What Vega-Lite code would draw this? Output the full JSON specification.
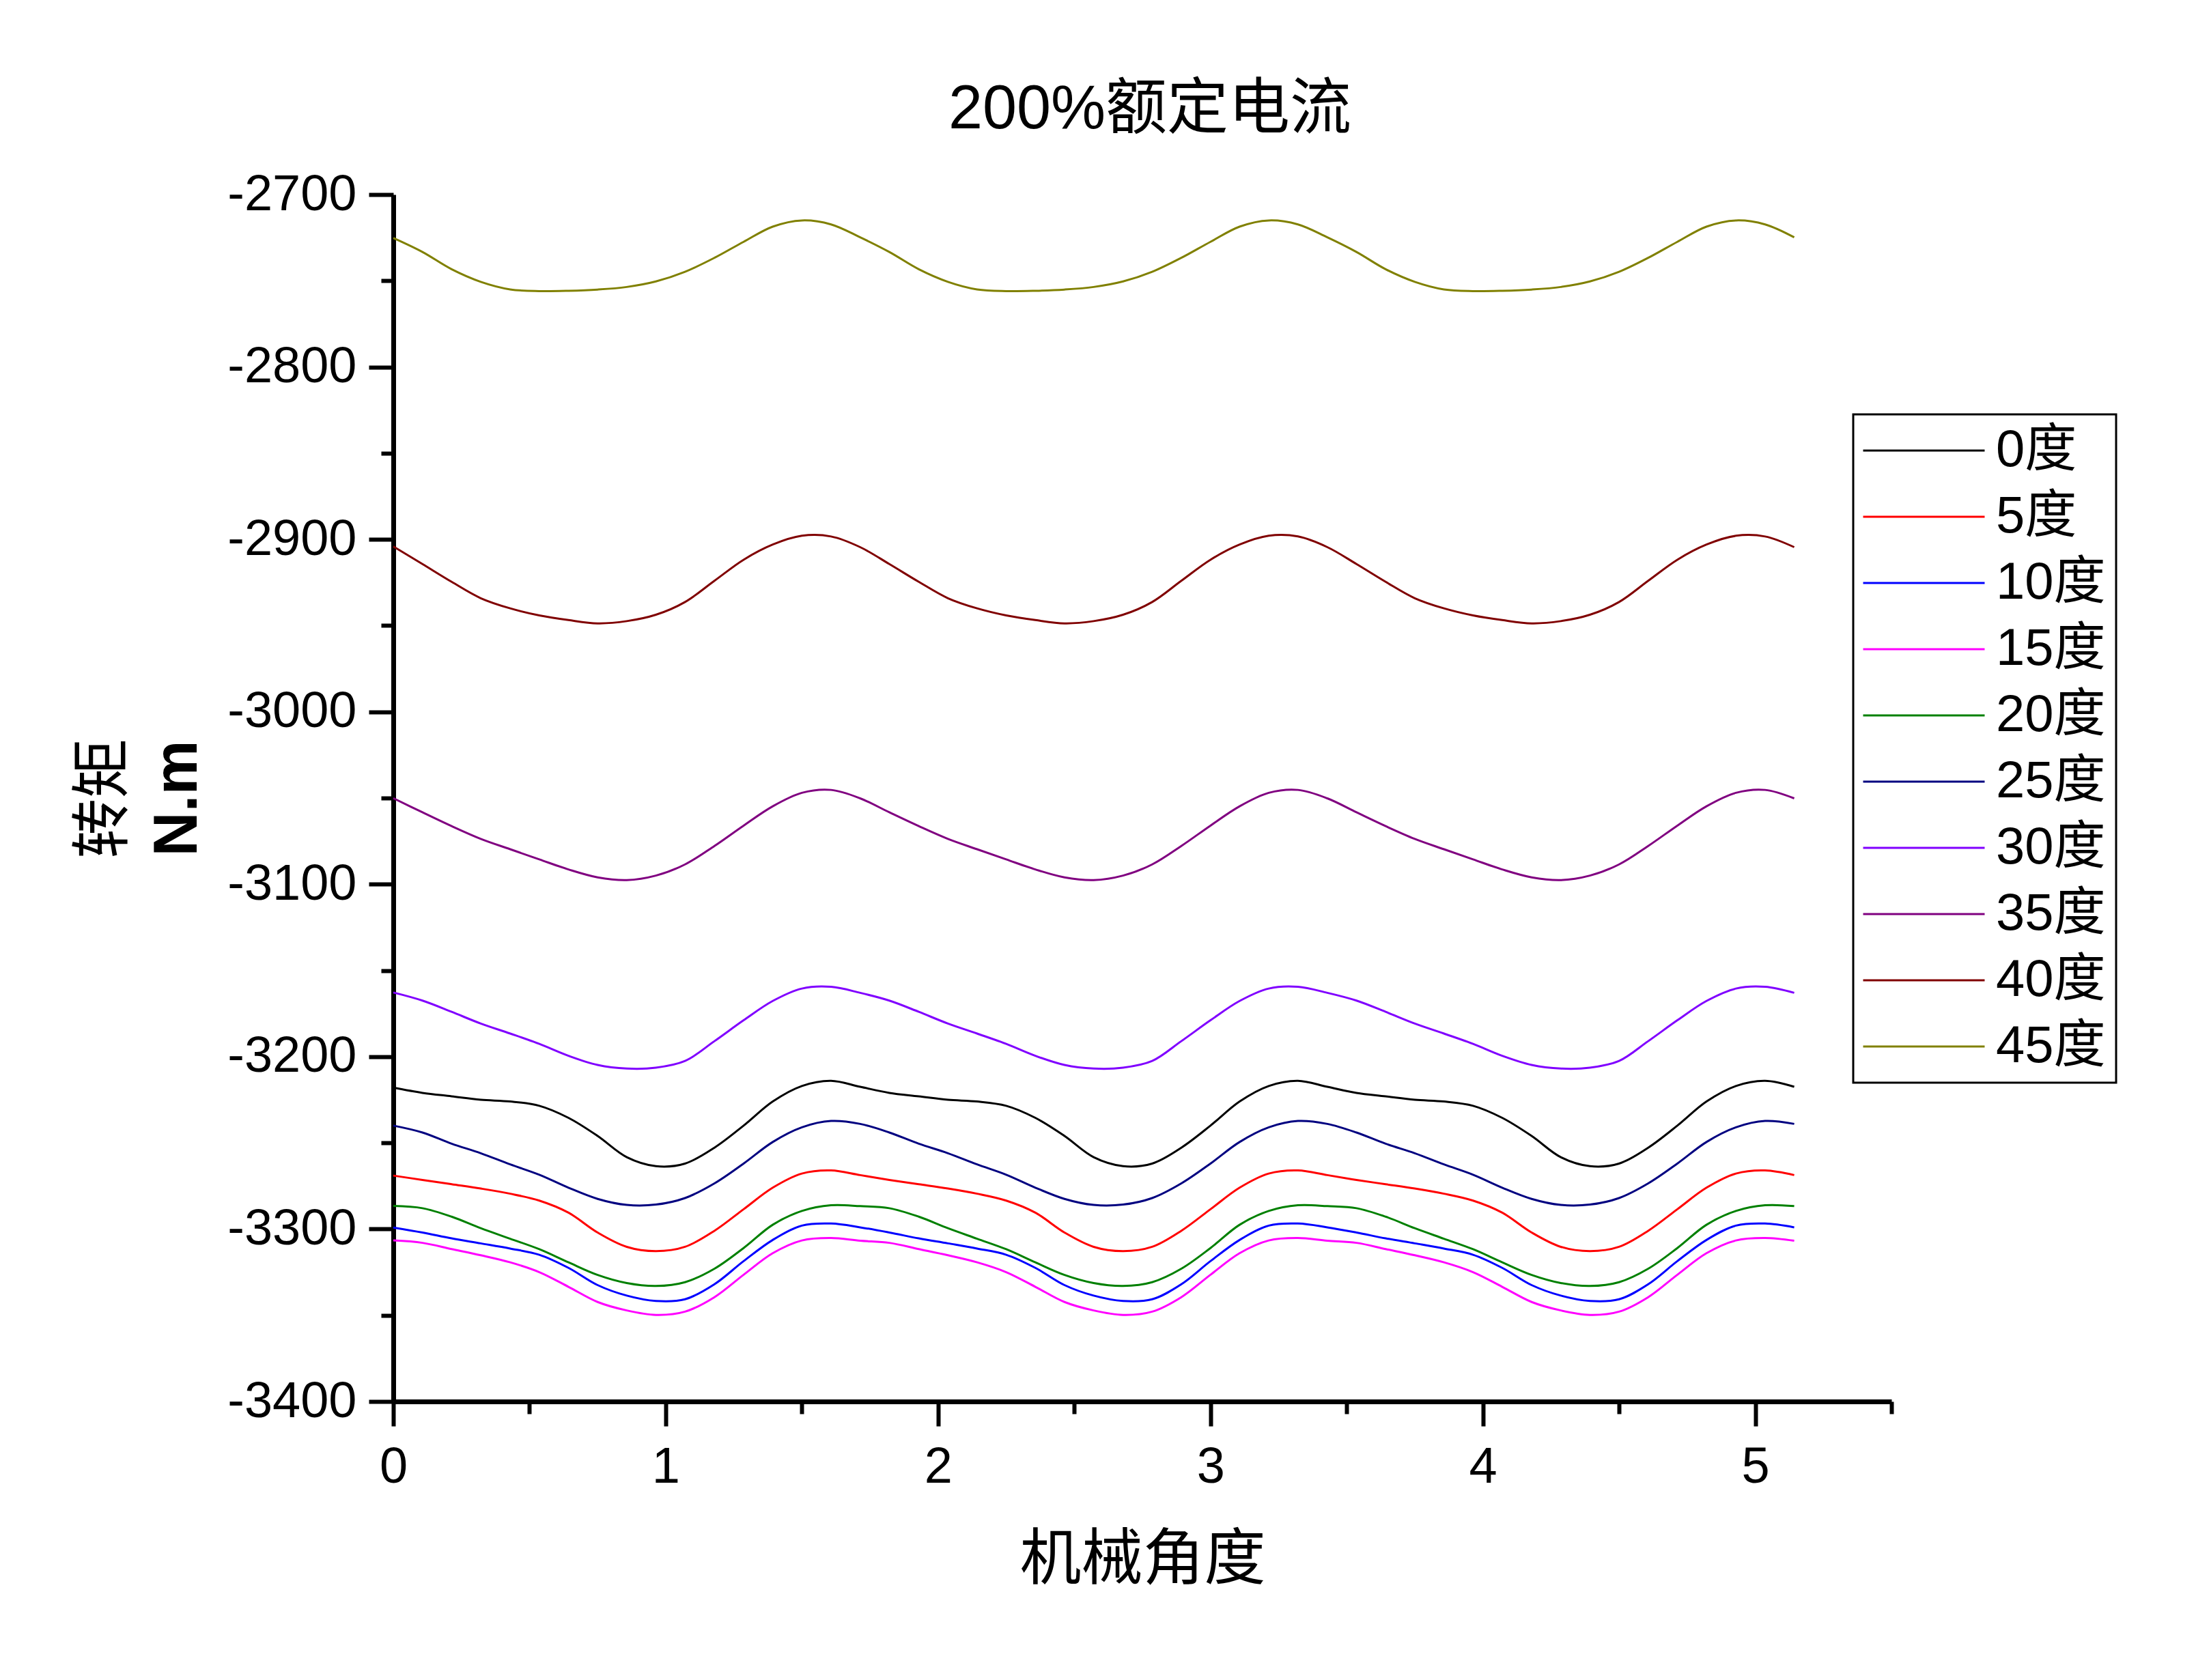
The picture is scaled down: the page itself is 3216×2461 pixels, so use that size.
{
  "$schema": "https://vega.github.io/schema/vega-lite/v6.json",
  "width": 2194,
  "height": 1768,
  "autosize": {"type": "none"},
  "padding": {"left": 576, "top": 285, "right": 446, "bottom": 408},
  "background": "white",
  "title": {
    "text": "200%额定电流",
    "anchor": "middle",
    "frame": "group",
    "offset": -30,
    "baseline": "alphabetic",
    "dx": 11,
    "font": "Liberation Sans, Noto Sans CJK SC",
    "fontSize": 90,
    "fontWeight": "normal",
    "color": "black"
  },
  "config": {
    "view": {"stroke": null},
    "axis": {"grid": false},
    "legend": {"strokeWidth": 3}
  },
  "data": {
    "values": [
      {"s":"0度","x":0,"y":-3218},{"s":"0度","x":0.107,"y":-3221},{"s":"0度","x":0.214,"y":-3223},{"s":"0度","x":0.321,"y":-3225},{"s":"0度","x":0.429,"y":-3226},{"s":"0度","x":0.536,"y":-3228.5},{"s":"0度","x":0.643,"y":-3235.5},{"s":"0度","x":0.75,"y":-3246},{"s":"0度","x":0.857,"y":-3258.3},{"s":"0度","x":0.964,"y":-3263.5},{"s":"0度","x":1.071,"y":-3262},{"s":"0度","x":1.179,"y":-3252.8},{"s":"0度","x":1.286,"y":-3240},{"s":"0度","x":1.393,"y":-3226},{"s":"0度","x":1.5,"y":-3217},{"s":"0度","x":1.607,"y":-3214},{"s":"0度","x":1.714,"y":-3217.5},
      {"s":"0度","x":1.821,"y":-3221},{"s":"0度","x":1.929,"y":-3223},{"s":"0度","x":2.036,"y":-3225},{"s":"0度","x":2.143,"y":-3226},{"s":"0度","x":2.25,"y":-3228.5},{"s":"0度","x":2.357,"y":-3235.5},{"s":"0度","x":2.464,"y":-3246},{"s":"0度","x":2.571,"y":-3258.3},{"s":"0度","x":2.679,"y":-3263.5},{"s":"0度","x":2.786,"y":-3262},{"s":"0度","x":2.893,"y":-3252.8},{"s":"0度","x":3,"y":-3240},{"s":"0度","x":3.107,"y":-3226},{"s":"0度","x":3.214,"y":-3217},{"s":"0度","x":3.321,"y":-3214},{"s":"0度","x":3.429,"y":-3217.5},
      {"s":"0度","x":3.536,"y":-3221},{"s":"0度","x":3.643,"y":-3223},{"s":"0度","x":3.75,"y":-3225},{"s":"0度","x":3.857,"y":-3226},{"s":"0度","x":3.964,"y":-3228.5},{"s":"0度","x":4.071,"y":-3235.5},{"s":"0度","x":4.179,"y":-3246},{"s":"0度","x":4.286,"y":-3258.3},{"s":"0度","x":4.393,"y":-3263.5},{"s":"0度","x":4.5,"y":-3262},{"s":"0度","x":4.607,"y":-3252.8},{"s":"0度","x":4.714,"y":-3240},{"s":"0度","x":4.821,"y":-3226},{"s":"0度","x":4.929,"y":-3217},{"s":"0度","x":5.036,"y":-3214},{"s":"0度","x":5.143,"y":-3217.5},

      {"s":"5度","x":0,"y":-3269},{"s":"5度","x":0.107,"y":-3271.5},{"s":"5度","x":0.214,"y":-3274},{"s":"5度","x":0.321,"y":-3276.5},{"s":"5度","x":0.429,"y":-3279.5},{"s":"5度","x":0.536,"y":-3283.5},{"s":"5度","x":0.643,"y":-3290.5},{"s":"5度","x":0.75,"y":-3302},{"s":"5度","x":0.857,"y":-3310.3},{"s":"5度","x":0.964,"y":-3312.8},{"s":"5度","x":1.071,"y":-3310.3},{"s":"5度","x":1.179,"y":-3301},{"s":"5度","x":1.286,"y":-3288.5},{"s":"5度","x":1.393,"y":-3276},{"s":"5度","x":1.5,"y":-3267.8},{"s":"5度","x":1.607,"y":-3266},{"s":"5度","x":1.714,"y":-3268.7},
      {"s":"5度","x":1.821,"y":-3271.5},{"s":"5度","x":1.929,"y":-3274},{"s":"5度","x":2.036,"y":-3276.5},{"s":"5度","x":2.143,"y":-3279.5},{"s":"5度","x":2.25,"y":-3283.5},{"s":"5度","x":2.357,"y":-3290.5},{"s":"5度","x":2.464,"y":-3302},{"s":"5度","x":2.571,"y":-3310.3},{"s":"5度","x":2.679,"y":-3312.8},{"s":"5度","x":2.786,"y":-3310.3},{"s":"5度","x":2.893,"y":-3301},{"s":"5度","x":3,"y":-3288.5},{"s":"5度","x":3.107,"y":-3276},{"s":"5度","x":3.214,"y":-3267.8},{"s":"5度","x":3.321,"y":-3266},{"s":"5度","x":3.429,"y":-3268.7},
      {"s":"5度","x":3.536,"y":-3271.5},{"s":"5度","x":3.643,"y":-3274},{"s":"5度","x":3.75,"y":-3276.5},{"s":"5度","x":3.857,"y":-3279.5},{"s":"5度","x":3.964,"y":-3283.5},{"s":"5度","x":4.071,"y":-3290.5},{"s":"5度","x":4.179,"y":-3302},{"s":"5度","x":4.286,"y":-3310.3},{"s":"5度","x":4.393,"y":-3312.8},{"s":"5度","x":4.5,"y":-3310.3},{"s":"5度","x":4.607,"y":-3301},{"s":"5度","x":4.714,"y":-3288.5},{"s":"5度","x":4.821,"y":-3276},{"s":"5度","x":4.929,"y":-3267.8},{"s":"5度","x":5.036,"y":-3266},{"s":"5度","x":5.143,"y":-3268.7},

      {"s":"10度","x":0,"y":-3299.1},{"s":"10度","x":0.107,"y":-3302},{"s":"10度","x":0.214,"y":-3305.4},{"s":"10度","x":0.321,"y":-3308.3},{"s":"10度","x":0.429,"y":-3311.3},{"s":"10度","x":0.536,"y":-3314.9},{"s":"10度","x":0.643,"y":-3322.5},{"s":"10度","x":0.75,"y":-3332.5},{"s":"10度","x":0.857,"y":-3338.6},{"s":"10度","x":0.964,"y":-3341.7},{"s":"10度","x":1.071,"y":-3340.7},{"s":"10度","x":1.179,"y":-3332},{"s":"10度","x":1.286,"y":-3318.6},{"s":"10度","x":1.393,"y":-3306.3},{"s":"10度","x":1.5,"y":-3298},{"s":"10度","x":1.607,"y":-3296.8},{"s":"10度","x":1.714,"y":-3299},
      {"s":"10度","x":1.821,"y":-3302},{"s":"10度","x":1.929,"y":-3305.4},{"s":"10度","x":2.036,"y":-3308.3},{"s":"10度","x":2.143,"y":-3311.3},{"s":"10度","x":2.25,"y":-3314.9},{"s":"10度","x":2.357,"y":-3322.5},{"s":"10度","x":2.464,"y":-3332.5},{"s":"10度","x":2.571,"y":-3338.6},{"s":"10度","x":2.679,"y":-3341.7},{"s":"10度","x":2.786,"y":-3340.7},{"s":"10度","x":2.893,"y":-3332},{"s":"10度","x":3,"y":-3318.6},{"s":"10度","x":3.107,"y":-3306.3},{"s":"10度","x":3.214,"y":-3298},{"s":"10度","x":3.321,"y":-3296.8},{"s":"10度","x":3.429,"y":-3299},
      {"s":"10度","x":3.536,"y":-3302},{"s":"10度","x":3.643,"y":-3305.4},{"s":"10度","x":3.75,"y":-3308.3},{"s":"10度","x":3.857,"y":-3311.3},{"s":"10度","x":3.964,"y":-3314.9},{"s":"10度","x":4.071,"y":-3322.5},{"s":"10度","x":4.179,"y":-3332.5},{"s":"10度","x":4.286,"y":-3338.6},{"s":"10度","x":4.393,"y":-3341.7},{"s":"10度","x":4.5,"y":-3340.7},{"s":"10度","x":4.607,"y":-3332},{"s":"10度","x":4.714,"y":-3318.6},{"s":"10度","x":4.821,"y":-3306.3},{"s":"10度","x":4.929,"y":-3298},{"s":"10度","x":5.036,"y":-3296.8},{"s":"10度","x":5.143,"y":-3299},

      {"s":"15度","x":0,"y":-3306.6},{"s":"15度","x":0.107,"y":-3308},{"s":"15度","x":0.214,"y":-3311.6},{"s":"15度","x":0.321,"y":-3315.2},{"s":"15度","x":0.429,"y":-3319.3},{"s":"15度","x":0.536,"y":-3325},{"s":"15度","x":0.643,"y":-3333.5},{"s":"15度","x":0.75,"y":-3342.3},{"s":"15度","x":0.857,"y":-3347.2},{"s":"15度","x":0.964,"y":-3349.8},{"s":"15度","x":1.071,"y":-3347.9},{"s":"15度","x":1.179,"y":-3339.5},{"s":"15度","x":1.286,"y":-3326.5},{"s":"15度","x":1.393,"y":-3314},{"s":"15度","x":1.5,"y":-3306.6},{"s":"15度","x":1.607,"y":-3305.2},{"s":"15度","x":1.714,"y":-3306.8},
      {"s":"15度","x":1.821,"y":-3308},{"s":"15度","x":1.929,"y":-3311.6},{"s":"15度","x":2.036,"y":-3315.2},{"s":"15度","x":2.143,"y":-3319.3},{"s":"15度","x":2.25,"y":-3325},{"s":"15度","x":2.357,"y":-3333.5},{"s":"15度","x":2.464,"y":-3342.3},{"s":"15度","x":2.571,"y":-3347.2},{"s":"15度","x":2.679,"y":-3349.8},{"s":"15度","x":2.786,"y":-3347.9},{"s":"15度","x":2.893,"y":-3339.5},{"s":"15度","x":3,"y":-3326.5},{"s":"15度","x":3.107,"y":-3314},{"s":"15度","x":3.214,"y":-3306.6},{"s":"15度","x":3.321,"y":-3305.2},{"s":"15度","x":3.429,"y":-3306.8},
      {"s":"15度","x":3.536,"y":-3308},{"s":"15度","x":3.643,"y":-3311.6},{"s":"15度","x":3.75,"y":-3315.2},{"s":"15度","x":3.857,"y":-3319.3},{"s":"15度","x":3.964,"y":-3325},{"s":"15度","x":4.071,"y":-3333.5},{"s":"15度","x":4.179,"y":-3342.3},{"s":"15度","x":4.286,"y":-3347.2},{"s":"15度","x":4.393,"y":-3349.8},{"s":"15度","x":4.5,"y":-3347.9},{"s":"15度","x":4.607,"y":-3339.5},{"s":"15度","x":4.714,"y":-3326.5},{"s":"15度","x":4.821,"y":-3314},{"s":"15度","x":4.929,"y":-3306.6},{"s":"15度","x":5.036,"y":-3305.2},{"s":"15度","x":5.143,"y":-3306.8},

      {"s":"20度","x":0,"y":-3286.6},{"s":"20度","x":0.107,"y":-3287.9},{"s":"20度","x":0.214,"y":-3292.8},{"s":"20度","x":0.321,"y":-3299.5},{"s":"20度","x":0.429,"y":-3305.6},{"s":"20度","x":0.536,"y":-3311.7},{"s":"20度","x":0.643,"y":-3319.3},{"s":"20度","x":0.75,"y":-3326.6},{"s":"20度","x":0.857,"y":-3331.3},{"s":"20度","x":0.964,"y":-3333},{"s":"20度","x":1.071,"y":-3330.8},{"s":"20度","x":1.179,"y":-3323},{"s":"20度","x":1.286,"y":-3311},{"s":"20度","x":1.393,"y":-3297.5},{"s":"20度","x":1.5,"y":-3289.5},{"s":"20度","x":1.607,"y":-3286.2},{"s":"20度","x":1.714,"y":-3286.7},
      {"s":"20度","x":1.821,"y":-3287.9},{"s":"20度","x":1.929,"y":-3292.8},{"s":"20度","x":2.036,"y":-3299.5},{"s":"20度","x":2.143,"y":-3305.6},{"s":"20度","x":2.25,"y":-3311.7},{"s":"20度","x":2.357,"y":-3319.3},{"s":"20度","x":2.464,"y":-3326.6},{"s":"20度","x":2.571,"y":-3331.3},{"s":"20度","x":2.679,"y":-3333},{"s":"20度","x":2.786,"y":-3330.8},{"s":"20度","x":2.893,"y":-3323},{"s":"20度","x":3,"y":-3311},{"s":"20度","x":3.107,"y":-3297.5},{"s":"20度","x":3.214,"y":-3289.5},{"s":"20度","x":3.321,"y":-3286.2},{"s":"20度","x":3.429,"y":-3286.7},
      {"s":"20度","x":3.536,"y":-3287.9},{"s":"20度","x":3.643,"y":-3292.8},{"s":"20度","x":3.75,"y":-3299.5},{"s":"20度","x":3.857,"y":-3305.6},{"s":"20度","x":3.964,"y":-3311.7},{"s":"20度","x":4.071,"y":-3319.3},{"s":"20度","x":4.179,"y":-3326.6},{"s":"20度","x":4.286,"y":-3331.3},{"s":"20度","x":4.393,"y":-3333},{"s":"20度","x":4.5,"y":-3330.8},{"s":"20度","x":4.607,"y":-3323},{"s":"20度","x":4.714,"y":-3311},{"s":"20度","x":4.821,"y":-3297.5},{"s":"20度","x":4.929,"y":-3289.5},{"s":"20度","x":5.036,"y":-3286.2},{"s":"20度","x":5.143,"y":-3286.7},

      {"s":"25度","x":0,"y":-3240},{"s":"25度","x":0.107,"y":-3244},{"s":"25度","x":0.214,"y":-3250.5},{"s":"25度","x":0.321,"y":-3256},{"s":"25度","x":0.429,"y":-3262.5},{"s":"25度","x":0.536,"y":-3268.5},{"s":"25度","x":0.643,"y":-3276},{"s":"25度","x":0.75,"y":-3282.5},{"s":"25度","x":0.857,"y":-3286},{"s":"25度","x":0.964,"y":-3285.8},{"s":"25度","x":1.071,"y":-3282},{"s":"25度","x":1.179,"y":-3273.5},{"s":"25度","x":1.286,"y":-3262},{"s":"25度","x":1.393,"y":-3249.5},{"s":"25度","x":1.5,"y":-3241},{"s":"25度","x":1.607,"y":-3237.3},{"s":"25度","x":1.714,"y":-3239},
      {"s":"25度","x":1.821,"y":-3244},{"s":"25度","x":1.929,"y":-3250.5},{"s":"25度","x":2.036,"y":-3256},{"s":"25度","x":2.143,"y":-3262.5},{"s":"25度","x":2.25,"y":-3268.5},{"s":"25度","x":2.357,"y":-3276},{"s":"25度","x":2.464,"y":-3282.5},{"s":"25度","x":2.571,"y":-3286},{"s":"25度","x":2.679,"y":-3285.8},{"s":"25度","x":2.786,"y":-3282},{"s":"25度","x":2.893,"y":-3273.5},{"s":"25度","x":3,"y":-3262},{"s":"25度","x":3.107,"y":-3249.5},{"s":"25度","x":3.214,"y":-3241},{"s":"25度","x":3.321,"y":-3237.3},{"s":"25度","x":3.429,"y":-3239},
      {"s":"25度","x":3.536,"y":-3244},{"s":"25度","x":3.643,"y":-3250.5},{"s":"25度","x":3.75,"y":-3256},{"s":"25度","x":3.857,"y":-3262.5},{"s":"25度","x":3.964,"y":-3268.5},{"s":"25度","x":4.071,"y":-3276},{"s":"25度","x":4.179,"y":-3282.5},{"s":"25度","x":4.286,"y":-3286},{"s":"25度","x":4.393,"y":-3285.8},{"s":"25度","x":4.5,"y":-3282},{"s":"25度","x":4.607,"y":-3273.5},{"s":"25度","x":4.714,"y":-3262},{"s":"25度","x":4.821,"y":-3249.5},{"s":"25度","x":4.929,"y":-3241},{"s":"25度","x":5.036,"y":-3237.3},{"s":"25度","x":5.143,"y":-3239},

      {"s":"30度","x":0,"y":-3162.8},{"s":"30度","x":0.107,"y":-3167.5},{"s":"30度","x":0.214,"y":-3174},{"s":"30度","x":0.321,"y":-3180.8},{"s":"30度","x":0.429,"y":-3186.6},{"s":"30度","x":0.536,"y":-3192.6},{"s":"30度","x":0.643,"y":-3199.5},{"s":"30度","x":0.75,"y":-3204.8},{"s":"30度","x":0.857,"y":-3206.9},{"s":"30度","x":0.964,"y":-3206.4},{"s":"30度","x":1.071,"y":-3202.5},{"s":"30度","x":1.179,"y":-3191},{"s":"30度","x":1.286,"y":-3178.9},{"s":"30度","x":1.393,"y":-3167.7},{"s":"30度","x":1.5,"y":-3160.5},{"s":"30度","x":1.607,"y":-3159.5},{"s":"30度","x":1.714,"y":-3163},
      {"s":"30度","x":1.821,"y":-3167.5},{"s":"30度","x":1.929,"y":-3174},{"s":"30度","x":2.036,"y":-3180.8},{"s":"30度","x":2.143,"y":-3186.6},{"s":"30度","x":2.25,"y":-3192.6},{"s":"30度","x":2.357,"y":-3199.5},{"s":"30度","x":2.464,"y":-3204.8},{"s":"30度","x":2.571,"y":-3206.9},{"s":"30度","x":2.679,"y":-3206.4},{"s":"30度","x":2.786,"y":-3202.5},{"s":"30度","x":2.893,"y":-3191},{"s":"30度","x":3,"y":-3178.9},{"s":"30度","x":3.107,"y":-3167.7},{"s":"30度","x":3.214,"y":-3160.5},{"s":"30度","x":3.321,"y":-3159.5},{"s":"30度","x":3.429,"y":-3163},
      {"s":"30度","x":3.536,"y":-3167.5},{"s":"30度","x":3.643,"y":-3174},{"s":"30度","x":3.75,"y":-3180.8},{"s":"30度","x":3.857,"y":-3186.6},{"s":"30度","x":3.964,"y":-3192.6},{"s":"30度","x":4.071,"y":-3199.5},{"s":"30度","x":4.179,"y":-3204.8},{"s":"30度","x":4.286,"y":-3206.9},{"s":"30度","x":4.393,"y":-3206.4},{"s":"30度","x":4.5,"y":-3202.5},{"s":"30度","x":4.607,"y":-3191},{"s":"30度","x":4.714,"y":-3178.9},{"s":"30度","x":4.821,"y":-3167.7},{"s":"30度","x":4.929,"y":-3160.5},{"s":"30度","x":5.036,"y":-3159.5},{"s":"30度","x":5.143,"y":-3163},

      {"s":"35度","x":0,"y":-3050.1},{"s":"35度","x":0.107,"y":-3058.3},{"s":"35度","x":0.214,"y":-3066.3},{"s":"35度","x":0.321,"y":-3073.7},{"s":"35度","x":0.429,"y":-3079.7},{"s":"35度","x":0.536,"y":-3085.6},{"s":"35度","x":0.643,"y":-3091.4},{"s":"35度","x":0.75,"y":-3096},{"s":"35度","x":0.857,"y":-3097.6},{"s":"35度","x":0.964,"y":-3095},{"s":"35度","x":1.071,"y":-3088.5},{"s":"35度","x":1.179,"y":-3077.8},{"s":"35度","x":1.286,"y":-3066},{"s":"35度","x":1.393,"y":-3054.8},{"s":"35度","x":1.5,"y":-3047},{"s":"35度","x":1.607,"y":-3045.3},{"s":"35度","x":1.714,"y":-3050.2},
      {"s":"35度","x":1.821,"y":-3058.3},{"s":"35度","x":1.929,"y":-3066.3},{"s":"35度","x":2.036,"y":-3073.7},{"s":"35度","x":2.143,"y":-3079.7},{"s":"35度","x":2.25,"y":-3085.6},{"s":"35度","x":2.357,"y":-3091.4},{"s":"35度","x":2.464,"y":-3096},{"s":"35度","x":2.571,"y":-3097.6},{"s":"35度","x":2.679,"y":-3095},{"s":"35度","x":2.786,"y":-3088.5},{"s":"35度","x":2.893,"y":-3077.8},{"s":"35度","x":3,"y":-3066},{"s":"35度","x":3.107,"y":-3054.8},{"s":"35度","x":3.214,"y":-3047},{"s":"35度","x":3.321,"y":-3045.3},{"s":"35度","x":3.429,"y":-3050.2},
      {"s":"35度","x":3.536,"y":-3058.3},{"s":"35度","x":3.643,"y":-3066.3},{"s":"35度","x":3.75,"y":-3073.7},{"s":"35度","x":3.857,"y":-3079.7},{"s":"35度","x":3.964,"y":-3085.6},{"s":"35度","x":4.071,"y":-3091.4},{"s":"35度","x":4.179,"y":-3096},{"s":"35度","x":4.286,"y":-3097.6},{"s":"35度","x":4.393,"y":-3095},{"s":"35度","x":4.5,"y":-3088.5},{"s":"35度","x":4.607,"y":-3077.8},{"s":"35度","x":4.714,"y":-3066},{"s":"35度","x":4.821,"y":-3054.8},{"s":"35度","x":4.929,"y":-3047},{"s":"35度","x":5.036,"y":-3045.3},{"s":"35度","x":5.143,"y":-3050.2},

      {"s":"40度","x":0,"y":-2904.1},{"s":"40度","x":0.107,"y":-2914.3},{"s":"40度","x":0.214,"y":-2924.6},{"s":"40度","x":0.321,"y":-2934.1},{"s":"40度","x":0.429,"y":-2940},{"s":"40度","x":0.536,"y":-2944.1},{"s":"40度","x":0.643,"y":-2946.8},{"s":"40度","x":0.75,"y":-2948.7},{"s":"40度","x":0.857,"y":-2947.4},{"s":"40度","x":0.964,"y":-2943.7},{"s":"40度","x":1.071,"y":-2936.3},{"s":"40度","x":1.179,"y":-2924},{"s":"40度","x":1.286,"y":-2911.8},{"s":"40度","x":1.393,"y":-2903},{"s":"40度","x":1.5,"y":-2897.9},{"s":"40度","x":1.607,"y":-2898.3},{"s":"40度","x":1.714,"y":-2904.5},
      {"s":"40度","x":1.821,"y":-2914.3},{"s":"40度","x":1.929,"y":-2924.6},{"s":"40度","x":2.036,"y":-2934.1},{"s":"40度","x":2.143,"y":-2940},{"s":"40度","x":2.25,"y":-2944.1},{"s":"40度","x":2.357,"y":-2946.8},{"s":"40度","x":2.464,"y":-2948.7},{"s":"40度","x":2.571,"y":-2947.4},{"s":"40度","x":2.679,"y":-2943.7},{"s":"40度","x":2.786,"y":-2936.3},{"s":"40度","x":2.893,"y":-2924},{"s":"40度","x":3,"y":-2911.8},{"s":"40度","x":3.107,"y":-2903},{"s":"40度","x":3.214,"y":-2897.9},{"s":"40度","x":3.321,"y":-2898.3},{"s":"40度","x":3.429,"y":-2904.5},
      {"s":"40度","x":3.536,"y":-2914.3},{"s":"40度","x":3.643,"y":-2924.6},{"s":"40度","x":3.75,"y":-2934.1},{"s":"40度","x":3.857,"y":-2940},{"s":"40度","x":3.964,"y":-2944.1},{"s":"40度","x":4.071,"y":-2946.8},{"s":"40度","x":4.179,"y":-2948.7},{"s":"40度","x":4.286,"y":-2947.4},{"s":"40度","x":4.393,"y":-2943.7},{"s":"40度","x":4.5,"y":-2936.3},{"s":"40度","x":4.607,"y":-2924},{"s":"40度","x":4.714,"y":-2911.8},{"s":"40度","x":4.821,"y":-2903},{"s":"40度","x":4.929,"y":-2897.9},{"s":"40度","x":5.036,"y":-2898.3},{"s":"40度","x":5.143,"y":-2904.5},

      {"s":"45度","x":0,"y":-2725.2},{"s":"45度","x":0.107,"y":-2733.3},{"s":"45度","x":0.214,"y":-2743.3},{"s":"45度","x":0.321,"y":-2750.6},{"s":"45度","x":0.429,"y":-2755},{"s":"45度","x":0.536,"y":-2756},{"s":"45度","x":0.643,"y":-2755.8},{"s":"45度","x":0.75,"y":-2755.1},{"s":"45度","x":0.857,"y":-2753.6},{"s":"45度","x":0.964,"y":-2750.4},{"s":"45度","x":1.071,"y":-2744.8},{"s":"45度","x":1.179,"y":-2736.7},{"s":"45度","x":1.286,"y":-2727.4},{"s":"45度","x":1.393,"y":-2718.6},{"s":"45度","x":1.5,"y":-2715},{"s":"45度","x":1.607,"y":-2717.3},{"s":"45度","x":1.714,"y":-2724.8},
      {"s":"45度","x":1.821,"y":-2733.3},{"s":"45度","x":1.929,"y":-2743.3},{"s":"45度","x":2.036,"y":-2750.6},{"s":"45度","x":2.143,"y":-2755},{"s":"45度","x":2.25,"y":-2756},{"s":"45度","x":2.357,"y":-2755.8},{"s":"45度","x":2.464,"y":-2755.1},{"s":"45度","x":2.571,"y":-2753.6},{"s":"45度","x":2.679,"y":-2750.4},{"s":"45度","x":2.786,"y":-2744.8},{"s":"45度","x":2.893,"y":-2736.7},{"s":"45度","x":3,"y":-2727.4},{"s":"45度","x":3.107,"y":-2718.6},{"s":"45度","x":3.214,"y":-2715},{"s":"45度","x":3.321,"y":-2717.3},{"s":"45度","x":3.429,"y":-2724.8},
      {"s":"45度","x":3.536,"y":-2733.3},{"s":"45度","x":3.643,"y":-2743.3},{"s":"45度","x":3.75,"y":-2750.6},{"s":"45度","x":3.857,"y":-2755},{"s":"45度","x":3.964,"y":-2756},{"s":"45度","x":4.071,"y":-2755.8},{"s":"45度","x":4.179,"y":-2755.1},{"s":"45度","x":4.286,"y":-2753.6},{"s":"45度","x":4.393,"y":-2750.4},{"s":"45度","x":4.5,"y":-2744.8},{"s":"45度","x":4.607,"y":-2736.7},{"s":"45度","x":4.714,"y":-2727.4},{"s":"45度","x":4.821,"y":-2718.6},{"s":"45度","x":4.929,"y":-2715},{"s":"45度","x":5.036,"y":-2717.3},{"s":"45度","x":5.143,"y":-2724.8}
    ]
  },
  "encoding": {
    "x": {
      "field": "x",
      "type": "quantitative",
      "scale": {"domain": [0, 5.5], "nice": false, "zero": false},
      "axis": {
        "values": [0, 0.5, 1, 1.5, 2, 2.5, 3, 3.5, 4, 4.5, 5, 5.5],
        "labelExpr": "datum.value % 1 === 0 ? '' + datum.value : ''",
        "tickSize": {"condition": {"test": "datum.value % 1 === 0", "value": 36}, "value": 18},
        "tickWidth": 6,
        "tickColor": "black",
        "domainColor": "black",
        "domainWidth": 7,
        "labelFont": "Liberation Sans",
        "labelFontSize": 74,
        "labelColor": "black",
        "labelPadding": 24,
        "labelFlush": false,
        "labelOverlap": false,
        "grid": false,
        "title": "机械角度",
        "titleFont": "Noto Sans CJK SC",
        "titleFontSize": 90,
        "titleFontWeight": "normal",
        "titleColor": "black",
        "titleY": 259,
        "titleBaseline": "alphabetic"
      }
    }
  },
  "layer": [
    {
      "mark": {"type": "line", "strokeWidth": 3, "interpolate": "catmull-rom"},
      "encoding": {
        "y": {
          "field": "y",
          "type": "quantitative",
          "scale": {"domain": [-3400, -2700], "nice": false, "zero": false},
          "axis": {
            "orient": "left",
            "values": [-3400, -3350, -3300, -3250, -3200, -3150, -3100, -3050, -3000, -2950, -2900, -2850, -2800, -2750, -2700],
            "labelExpr": "datum.value % 100 === 0 ? '' + datum.value : ''",
            "tickSize": {"condition": {"test": "datum.value % 100 === 0", "value": 36}, "value": 18},
            "tickWidth": 6,
            "tickColor": "black",
            "domainColor": "black",
            "domainWidth": 7,
            "labelFont": "Liberation Sans",
            "labelFontSize": 74,
            "labelColor": "black",
            "labelPadding": 18,
            "labelLimit": 500,
            "labelFlush": false,
            "labelOverlap": false,
            "grid": false,
            "title": "N.m",
            "titleFont": "Liberation Sans",
            "titleFontSize": 90,
            "titleFontWeight": "bold",
            "titleColor": "black",
            "titleAngle": 270,
            "titleX": -289,
            "titleBaseline": "alphabetic"
          }
        },
        "color": {
          "field": "s",
          "type": "nominal",
          "scale": {
            "domain": ["0度", "5度", "10度", "15度", "20度", "25度", "30度", "35度", "40度", "45度"],
            "range": ["#000000", "#FF0000", "#0000FF", "#FF00FF", "#008000", "#000080", "#8000FF", "#800080", "#800000", "#808000"]
          },
          "legend": {
            "orient": "none",
            "legendX": 2138,
            "legendY": 322,
            "direction": "vertical",
            "title": null,
            "symbolType": "M-8,0H8",
            "symbolSize": 495,
            "symbolStrokeWidth": 3,
            "symbolOffset": 50.5,
            "labelOffset": 67.5,
            "labelFont": "Liberation Sans, Noto Sans CJK SC",
            "labelFontSize": 76,
            "labelColor": "black",
            "labelLimit": 500,
            "rowPadding": 21,
            "padding": 15,
            "strokeColor": "black",
            "fillColor": "white"
          }
        }
      }
    },
    {
      "mark": {"type": "point", "opacity": 0},
      "encoding": {
        "y": {
          "field": "y",
          "type": "quantitative",
          "scale": {"domain": [-3400, -2700], "nice": false, "zero": false},
          "axis": {
            "orient": "left",
            "domain": false,
            "ticks": false,
            "labels": false,
            "grid": false,
            "title": "转矩",
            "titleFont": "Noto Sans CJK SC",
            "titleFontSize": 88,
            "titleFontWeight": "normal",
            "titleColor": "black",
            "titleAngle": 270,
            "titleX": -398,
            "titleBaseline": "alphabetic"
          }
        }
      }
    }
  ],
  "resolve": {"axis": {"y": "independent"}}
}
